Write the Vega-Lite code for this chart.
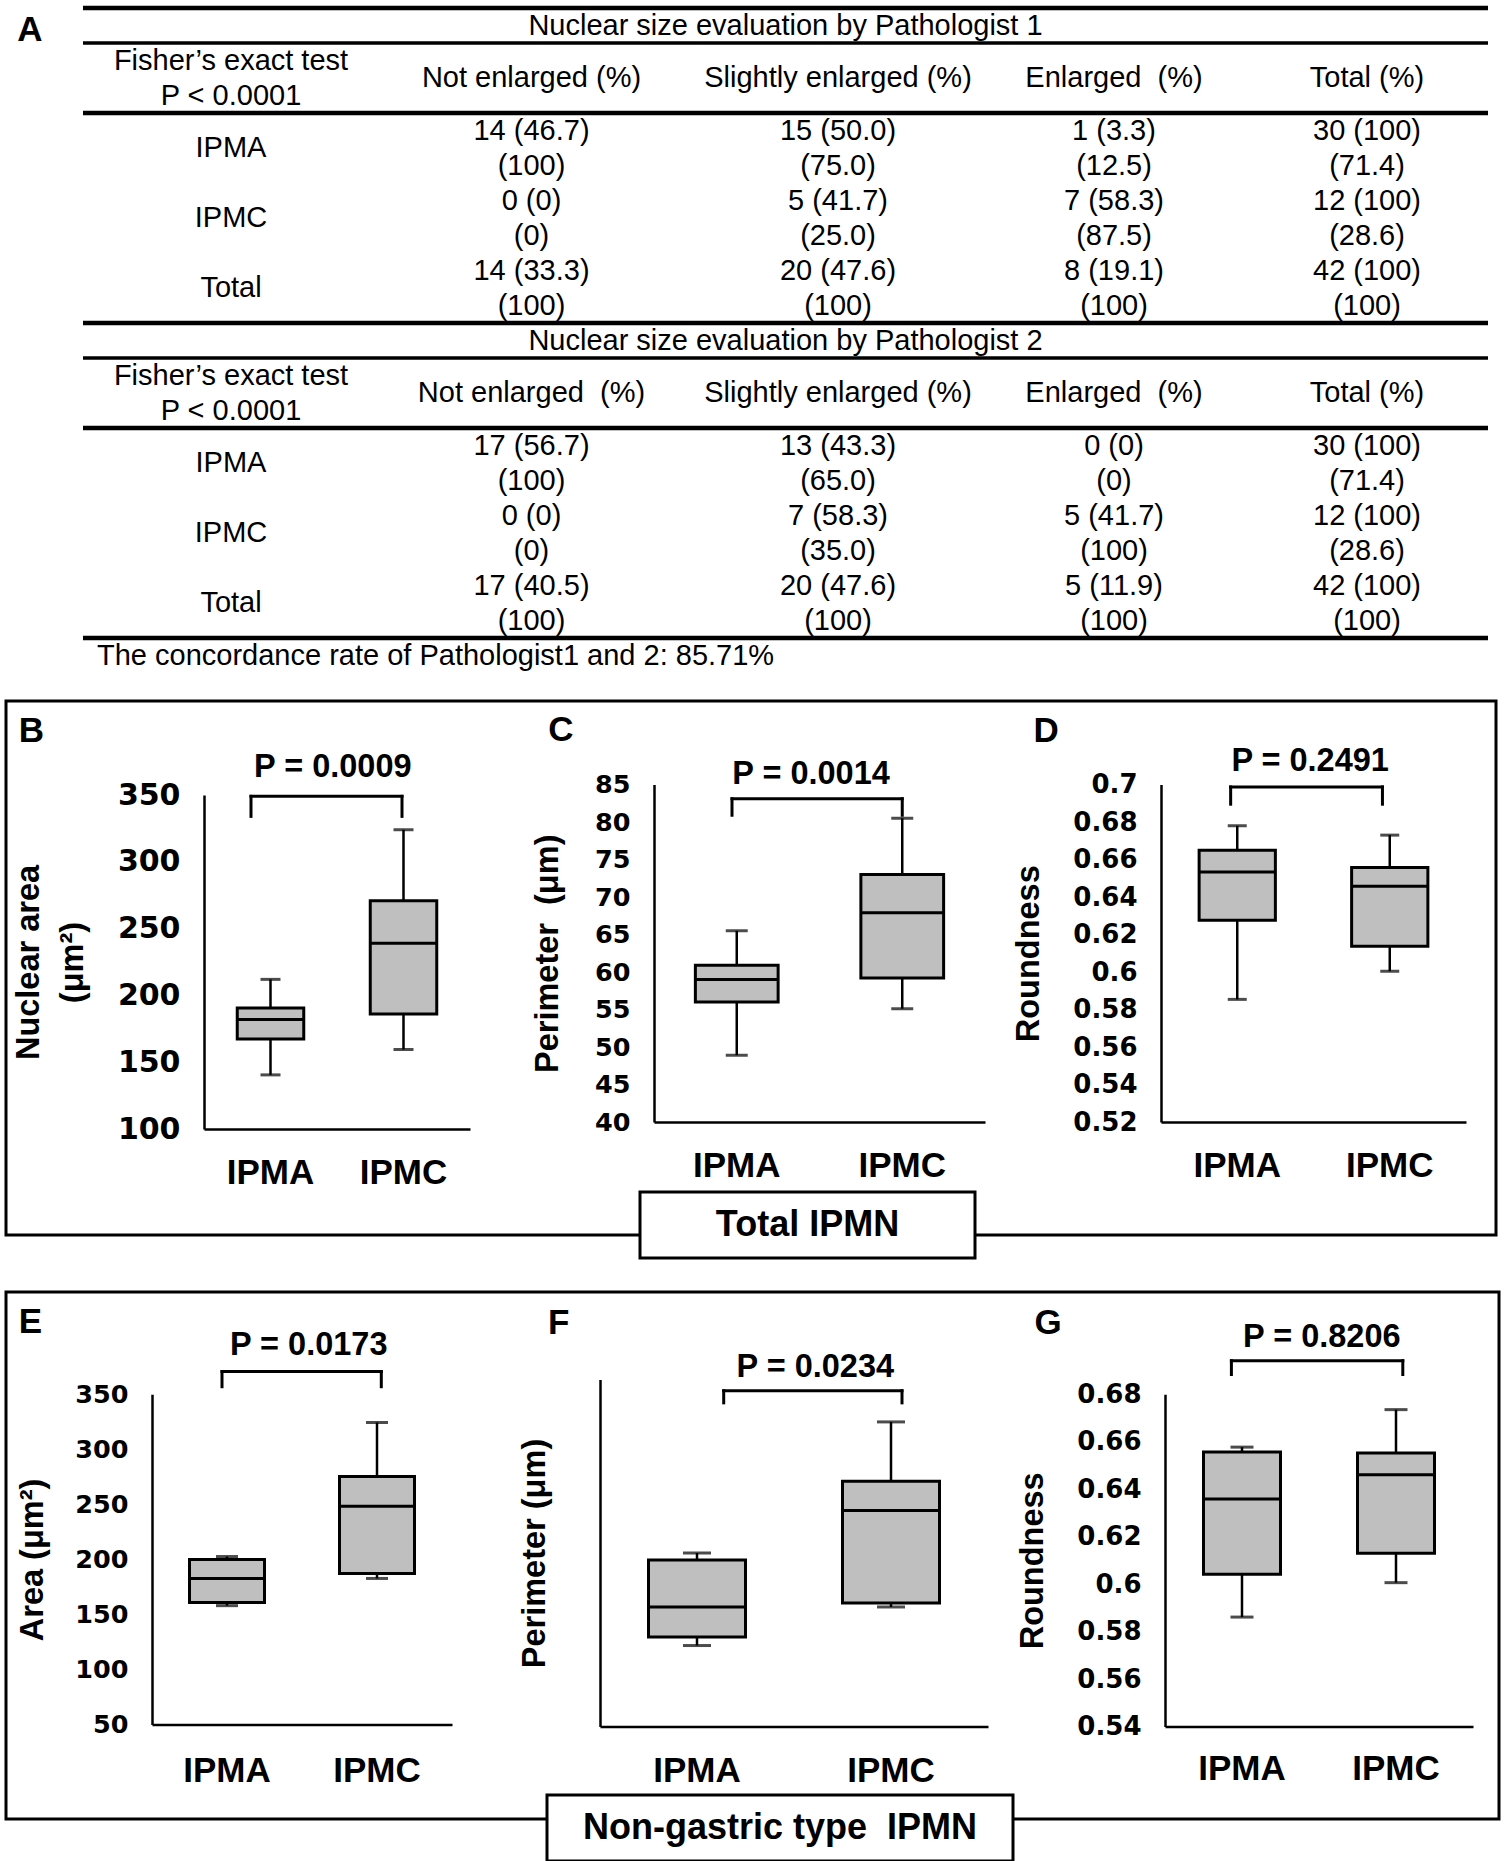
{
  "$schema": "https://vega.github.io/schema/vega-lite/v6.json",
  "background": "white",
  "padding": {"left": 4, "top": 5, "right": 4, "bottom": 3},
  "bounds": "flush",
  "spacing": 57,
  "config": {
    "view": {"stroke": null},
    "axis": {"grid": false, "ticks": false, "tickSize": 0, "domainColor": "black", "domainWidth": 2.5, "labelColor": "black", "titleColor": "black", "labelOverlap": false, "labelFlush": false, "titleFont": "Liberation Sans", "titleFontWeight": "bold", "titleFontSize": 32.5, "titleLineHeight": 44},
    "axisX": {"labelFont": "Liberation Sans", "labelFontWeight": "bold", "labelFontSize": 35, "labelPadding": 43, "labelBaseline": "middle", "labelAngle": 0},
    "axisY": {"labelFont": "DejaVu Sans", "labelFontWeight": "bold", "labelFontSize": 25.5, "labelPadding": 24}
  },
  "datasets": {
    "table": [
      {"line": 0, "col": "title", "text": "Nuclear size evaluation by Pathologist 1"},
      {"line": 1, "col": "label", "text": "Fisher’s exact test"},
      {"line": 2, "col": "label", "text": "P < 0.0001"},
      {"line": 1.5, "col": "Not enlarged", "text": "Not enlarged (%)"},
      {"line": 1.5, "col": "Slightly enlarged", "text": "Slightly enlarged (%)"},
      {"line": 1.5, "col": "Enlarged", "text": "Enlarged\u00a0 (%)"},
      {"line": 1.5, "col": "Total", "text": "Total (%)"},
      {"line": 3.5, "col": "label", "text": "IPMA"},
      {"line": 5.5, "col": "label", "text": "IPMC"},
      {"line": 7.5, "col": "label", "text": "Total"},
      {"line": 3, "col": "Not enlarged", "text": "14 (46.7)"},
      {"line": 4, "col": "Not enlarged", "text": "(100)"},
      {"line": 5, "col": "Not enlarged", "text": "0 (0)"},
      {"line": 6, "col": "Not enlarged", "text": "(0)"},
      {"line": 7, "col": "Not enlarged", "text": "14 (33.3)"},
      {"line": 8, "col": "Not enlarged", "text": "(100)"},
      {"line": 3, "col": "Slightly enlarged", "text": "15 (50.0)"},
      {"line": 4, "col": "Slightly enlarged", "text": "(75.0)"},
      {"line": 5, "col": "Slightly enlarged", "text": "5 (41.7)"},
      {"line": 6, "col": "Slightly enlarged", "text": "(25.0)"},
      {"line": 7, "col": "Slightly enlarged", "text": "20 (47.6)"},
      {"line": 8, "col": "Slightly enlarged", "text": "(100)"},
      {"line": 3, "col": "Enlarged", "text": "1 (3.3)"},
      {"line": 4, "col": "Enlarged", "text": "(12.5)"},
      {"line": 5, "col": "Enlarged", "text": "7 (58.3)"},
      {"line": 6, "col": "Enlarged", "text": "(87.5)"},
      {"line": 7, "col": "Enlarged", "text": "8 (19.1)"},
      {"line": 8, "col": "Enlarged", "text": "(100)"},
      {"line": 3, "col": "Total", "text": "30 (100)"},
      {"line": 4, "col": "Total", "text": "(71.4)"},
      {"line": 5, "col": "Total", "text": "12 (100)"},
      {"line": 6, "col": "Total", "text": "(28.6)"},
      {"line": 7, "col": "Total", "text": "42 (100)"},
      {"line": 8, "col": "Total", "text": "(100)"},
      {"line": 9, "col": "title", "text": "Nuclear size evaluation by Pathologist 2"},
      {"line": 10, "col": "label", "text": "Fisher’s exact test"},
      {"line": 11, "col": "label", "text": "P < 0.0001"},
      {"line": 10.5, "col": "Not enlarged", "text": "Not enlarged\u00a0 (%)"},
      {"line": 10.5, "col": "Slightly enlarged", "text": "Slightly enlarged (%)"},
      {"line": 10.5, "col": "Enlarged", "text": "Enlarged\u00a0 (%)"},
      {"line": 10.5, "col": "Total", "text": "Total (%)"},
      {"line": 12.5, "col": "label", "text": "IPMA"},
      {"line": 14.5, "col": "label", "text": "IPMC"},
      {"line": 16.5, "col": "label", "text": "Total"},
      {"line": 12, "col": "Not enlarged", "text": "17 (56.7)"},
      {"line": 13, "col": "Not enlarged", "text": "(100)"},
      {"line": 14, "col": "Not enlarged", "text": "0 (0)"},
      {"line": 15, "col": "Not enlarged", "text": "(0)"},
      {"line": 16, "col": "Not enlarged", "text": "17 (40.5)"},
      {"line": 17, "col": "Not enlarged", "text": "(100)"},
      {"line": 12, "col": "Slightly enlarged", "text": "13 (43.3)"},
      {"line": 13, "col": "Slightly enlarged", "text": "(65.0)"},
      {"line": 14, "col": "Slightly enlarged", "text": "7 (58.3)"},
      {"line": 15, "col": "Slightly enlarged", "text": "(35.0)"},
      {"line": 16, "col": "Slightly enlarged", "text": "20 (47.6)"},
      {"line": 17, "col": "Slightly enlarged", "text": "(100)"},
      {"line": 12, "col": "Enlarged", "text": "0 (0)"},
      {"line": 13, "col": "Enlarged", "text": "(0)"},
      {"line": 14, "col": "Enlarged", "text": "5 (41.7)"},
      {"line": 15, "col": "Enlarged", "text": "(100)"},
      {"line": 16, "col": "Enlarged", "text": "5 (11.9)"},
      {"line": 17, "col": "Enlarged", "text": "(100)"},
      {"line": 12, "col": "Total", "text": "30 (100)"},
      {"line": 13, "col": "Total", "text": "(71.4)"},
      {"line": 14, "col": "Total", "text": "12 (100)"},
      {"line": 15, "col": "Total", "text": "(28.6)"},
      {"line": 16, "col": "Total", "text": "42 (100)"},
      {"line": 17, "col": "Total", "text": "(100)"},
      {"line": 18, "col": "note", "text": "The concordance rate of Pathologist1 and 2: 85.71%"}
    ],
    "box": [
      {"panel": "B", "group": "IPMA", "min": 140.5, "q1": 167.3, "median": 182, "q3": 190.5, "max": 212},
      {"panel": "B", "group": "IPMC", "min": 159.5, "q1": 186, "median": 239, "q3": 270.8, "max": 324},
      {"panel": "C", "group": "IPMA", "min": 48.9, "q1": 56, "median": 59, "q3": 60.9, "max": 65.5},
      {"panel": "C", "group": "IPMC", "min": 55.1, "q1": 59.2, "median": 67.9, "q3": 73, "max": 80.5},
      {"panel": "D", "group": "IPMA", "min": 0.5854, "q1": 0.6276, "median": 0.6534, "q3": 0.665, "max": 0.678},
      {"panel": "D", "group": "IPMC", "min": 0.6004, "q1": 0.6138, "median": 0.6458, "q3": 0.6557, "max": 0.673},
      {"panel": "E", "group": "IPMA", "min": 158, "q1": 160.8, "median": 182.7, "q3": 199.8, "max": 202.6},
      {"panel": "E", "group": "IPMC", "min": 182.7, "q1": 187.2, "median": 248.2, "q3": 275.3, "max": 324.3},
      {"panel": "F", "group": "IPMA", "min": 50.5, "q1": 51.6, "median": 55.5, "q3": 61.6, "max": 62.5},
      {"panel": "F", "group": "IPMC", "min": 55.5, "q1": 56, "median": 68, "q3": 71.8, "max": 79.5},
      {"panel": "G", "group": "IPMA", "min": 0.5861, "q1": 0.6041, "median": 0.6358, "q3": 0.6557, "max": 0.6577},
      {"panel": "G", "group": "IPMC", "min": 0.6006, "q1": 0.613, "median": 0.6461, "q3": 0.6552, "max": 0.6735}
    ],
    "notes": [
      {"panel": "B", "letter": "B", "p": "P = 0.0009"},
      {"panel": "C", "letter": "C", "p": "P = 0.0014"},
      {"panel": "D", "letter": "D", "p": "P = 0.2491"},
      {"panel": "E", "letter": "E", "p": "P = 0.0173"},
      {"panel": "F", "letter": "F", "p": "P = 0.0234"},
      {"panel": "G", "letter": "G", "p": "P = 0.8206"}
    ]
  },
  "vconcat": [
    {
      "width": 1490, "height": 636,
      "view": {"stroke": null},
      "data": {"name": "table"},
      "layer": [
        {"data": {"values": [{"line": 0.5}, {"line": 9.5}]},
         "mark": {"type": "rule", "color": "black", "strokeWidth": 3.3},
         "encoding": {
           "x": {"datum": "label", "type": "nominal", "bandPosition": 0, "scale": {"type": "band", "domain": ["label", "Not enlarged", "Slightly enlarged", "Enlarged", "Total"], "range": [77, 1482], "paddingInner": 0, "paddingOuter": 0}, "axis": null},
           "x2": {"datum": "Total", "bandPosition": 1},
           "y": {"field": "line", "type": "quantitative", "scale": {"domain": [-0.5, 17.6714], "reverse": true, "nice": false, "zero": false}, "axis": null}}},
        {"data": {"values": [{"line": -0.5}, {"line": 2.5}, {"line": 8.5}, {"line": 11.5}, {"line": 17.5}]},
         "mark": {"type": "rule", "color": "black", "strokeWidth": 4.5},
         "encoding": {
           "x": {"datum": "label", "type": "nominal", "bandPosition": 0, "axis": null},
           "x2": {"datum": "Total", "bandPosition": 1},
           "y": {"field": "line", "type": "quantitative", "axis": null}}},
        {"transform": [{"filter": "datum.col === 'label'"}],
         "mark": {"type": "text", "font": "Liberation Sans", "fontSize": 29, "baseline": "middle", "color": "black", "dx": 7.5},
         "encoding": {"x": {"field": "col", "type": "nominal", "axis": null}, "y": {"field": "line", "type": "quantitative", "axis": null}, "text": {"field": "text"}}},
        {"transform": [{"filter": "datum.col === 'Not enlarged'"}],
         "mark": {"type": "text", "font": "Liberation Sans", "fontSize": 29, "baseline": "middle", "color": "black", "dx": 27},
         "encoding": {"x": {"field": "col", "type": "nominal", "axis": null}, "y": {"field": "line", "type": "quantitative", "axis": null}, "text": {"field": "text"}}},
        {"transform": [{"filter": "datum.col === 'Slightly enlarged'"}],
         "mark": {"type": "text", "font": "Liberation Sans", "fontSize": 29, "baseline": "middle", "color": "black", "dx": 52.5},
         "encoding": {"x": {"field": "col", "type": "nominal", "axis": null}, "y": {"field": "line", "type": "quantitative", "axis": null}, "text": {"field": "text"}}},
        {"transform": [{"filter": "datum.col === 'Enlarged'"}],
         "mark": {"type": "text", "font": "Liberation Sans", "fontSize": 29, "baseline": "middle", "color": "black", "dx": 47.5},
         "encoding": {"x": {"field": "col", "type": "nominal", "axis": null}, "y": {"field": "line", "type": "quantitative", "axis": null}, "text": {"field": "text"}}},
        {"transform": [{"filter": "datum.col === 'Total'"}],
         "mark": {"type": "text", "font": "Liberation Sans", "fontSize": 29, "baseline": "middle", "color": "black", "dx": 19.5},
         "encoding": {"x": {"field": "col", "type": "nominal", "axis": null}, "y": {"field": "line", "type": "quantitative", "axis": null}, "text": {"field": "text"}}},
        {"transform": [{"filter": "datum.col === 'title'"}],
         "mark": {"type": "text", "font": "Liberation Sans", "fontSize": 29, "baseline": "middle", "color": "black"},
         "encoding": {"x": {"datum": "Slightly enlarged", "type": "nominal", "axis": null}, "y": {"field": "line", "type": "quantitative", "axis": null}, "text": {"field": "text"}}},
        {"transform": [{"filter": "datum.col === 'note'"}],
         "mark": {"type": "text", "font": "Liberation Sans", "fontSize": 29, "baseline": "middle", "align": "left", "color": "black", "dx": 14},
         "encoding": {"x": {"datum": "label", "type": "nominal", "bandPosition": 0, "axis": null}, "y": {"field": "line", "type": "quantitative", "axis": null}, "text": {"field": "text"}}},
        {"data": {"values": [{"t": "A"}]},
         "mark": {"type": "text", "font": "Liberation Sans", "fontWeight": "bold", "fontSize": 35, "baseline": "middle", "color": "black", "dx": -53, "dy": 4},
         "encoding": {"x": {"datum": "label", "type": "nominal", "bandPosition": 0, "axis": null}, "y": {"datum": 0, "type": "quantitative", "axis": null}, "text": {"field": "t"}}}
      ]
    },
    {
      "width": 1490, "height": 534,
      "view": {"stroke": "black", "strokeWidth": 3},
      "resolve": {"scale": {"x": "independent", "y": "independent"}},
      "layer": [
        {"layer": [
          {"data": {"name": "box"}, "transform": [{"filter": "datum.panel === 'B'"}], "layer": [
            {"mark": {"type": "rule", "color": "black", "strokeWidth": 2.5},
             "encoding": {
               "x": {"field": "group", "type": "nominal", "scale": {"type": "band", "domain": ["IPMA", "IPMC"], "range": [198, 464], "paddingInner": 0, "paddingOuter": 0}, "axis": {"orient": "bottom", "offset": -106, "title": null, "labelPadding": 43}},
               "y": {"field": "min", "type": "quantitative", "scale": {"domain": [100, 350], "range": [428, 94], "nice": false, "zero": false}, "axis": {"orient": "left", "offset": -198, "values": [100, 150, 200, 250, 300, 350], "labelFontSize": 30, "title": ["Nuclear area", "(μm²)"], "titlePadding": 28}},
               "y2": {"field": "max"}}},
            {"mark": {"type": "bar", "fill": "#bfbfbf", "stroke": "black", "strokeWidth": 3, "width": {"band": 0.5}},
             "encoding": {"x": {"field": "group", "type": "nominal"}, "y": {"field": "q1", "type": "quantitative"}, "y2": {"field": "q3"}}},
            {"mark": {"type": "bar", "fill": "#bfbfbf", "stroke": "black", "strokeWidth": 3, "width": {"band": 0.5}},
             "encoding": {"x": {"field": "group", "type": "nominal"}, "y": {"field": "median", "type": "quantitative"}, "y2": {"field": "median"}}},
            {"mark": {"type": "tick", "color": "black", "thickness": 3, "size": 20},
             "encoding": {"x": {"field": "group", "type": "nominal"}, "y": {"field": "min", "type": "quantitative"}}},
            {"mark": {"type": "tick", "color": "black", "thickness": 3, "size": 20},
             "encoding": {"x": {"field": "group", "type": "nominal"}, "y": {"field": "max", "type": "quantitative"}}}
          ]},
          {"data": {"name": "notes"}, "transform": [{"filter": "datum.panel === 'B'"}], "layer": [
            {"mark": {"type": "rule", "color": "black", "strokeWidth": 3, "strokeCap": "square", "xOffset": -19.5, "x2Offset": -1.5},
             "encoding": {"x": {"datum": "IPMA", "type": "nominal"}, "x2": {"datum": "IPMC"}, "y": {"datum": 349, "type": "quantitative"}}},
            {"mark": {"type": "rule", "color": "black", "strokeWidth": 3, "strokeCap": "square", "xOffset": -19.5},
             "encoding": {"x": {"datum": "IPMA", "type": "nominal"}, "y": {"datum": 349, "type": "quantitative"}, "y2": {"datum": 334}}},
            {"mark": {"type": "rule", "color": "black", "strokeWidth": 3, "strokeCap": "square", "xOffset": -1.5},
             "encoding": {"x": {"datum": "IPMC", "type": "nominal"}, "y": {"datum": 349, "type": "quantitative"}, "y2": {"datum": 334}}},
            {"mark": {"type": "text", "font": "Liberation Sans", "fontWeight": "bold", "fontSize": 32.5, "baseline": "middle", "color": "black", "dx": 62.3},
             "encoding": {"x": {"datum": "IPMA", "type": "nominal"}, "y": {"datum": 370.8, "type": "quantitative"}, "text": {"field": "p"}}},
            {"mark": {"type": "text", "font": "Liberation Sans", "fontWeight": "bold", "fontSize": 35, "baseline": "middle", "color": "black", "dx": -239},
             "encoding": {"x": {"datum": "IPMA", "type": "nominal"}, "y": {"datum": 397.8, "type": "quantitative"}, "text": {"field": "letter"}}}
          ]}
        ]},
        {"layer": [
          {"data": {"name": "box"}, "transform": [{"filter": "datum.panel === 'C'"}], "layer": [
            {"mark": {"type": "rule", "color": "black", "strokeWidth": 2.5},
             "encoding": {
               "x": {"field": "group", "type": "nominal", "scale": {"type": "band", "domain": ["IPMA", "IPMC"], "range": [648, 979], "paddingInner": 0, "paddingOuter": 0}, "axis": {"orient": "bottom", "offset": -113, "title": null, "labelPadding": 43}},
               "y": {"field": "min", "type": "quantitative", "scale": {"domain": [40, 85], "range": [421, 83.5], "nice": false, "zero": false}, "axis": {"orient": "left", "offset": -648, "values": [40, 45, 50, 55, 60, 65, 70, 75, 80, 85], "title": "Perimeter\u00a0 (μm)", "titlePadding": 30}},
               "y2": {"field": "max"}}},
            {"mark": {"type": "bar", "fill": "#bfbfbf", "stroke": "black", "strokeWidth": 3, "width": {"band": 0.5}},
             "encoding": {"x": {"field": "group", "type": "nominal"}, "y": {"field": "q1", "type": "quantitative"}, "y2": {"field": "q3"}}},
            {"mark": {"type": "bar", "fill": "#bfbfbf", "stroke": "black", "strokeWidth": 3, "width": {"band": 0.5}},
             "encoding": {"x": {"field": "group", "type": "nominal"}, "y": {"field": "median", "type": "quantitative"}, "y2": {"field": "median"}}},
            {"mark": {"type": "tick", "color": "black", "thickness": 3, "size": 22},
             "encoding": {"x": {"field": "group", "type": "nominal"}, "y": {"field": "min", "type": "quantitative"}}},
            {"mark": {"type": "tick", "color": "black", "thickness": 3, "size": 22},
             "encoding": {"x": {"field": "group", "type": "nominal"}, "y": {"field": "max", "type": "quantitative"}}}
          ]},
          {"data": {"name": "notes"}, "transform": [{"filter": "datum.panel === 'C'"}], "layer": [
            {"mark": {"type": "rule", "color": "black", "strokeWidth": 3, "strokeCap": "square", "xOffset": -4.75, "x2Offset": 0},
             "encoding": {"x": {"datum": "IPMA", "type": "nominal"}, "x2": {"datum": "IPMC"}, "y": {"datum": 83.1, "type": "quantitative"}}},
            {"mark": {"type": "rule", "color": "black", "strokeWidth": 3, "strokeCap": "square", "xOffset": -4.75},
             "encoding": {"x": {"datum": "IPMA", "type": "nominal"}, "y": {"datum": 83.1, "type": "quantitative"}, "y2": {"datum": 80.9}}},
            {"mark": {"type": "rule", "color": "black", "strokeWidth": 3, "strokeCap": "square"},
             "encoding": {"x": {"datum": "IPMC", "type": "nominal"}, "y": {"datum": 83.1, "type": "quantitative"}, "y2": {"datum": 80.9}}},
            {"mark": {"type": "text", "font": "Liberation Sans", "fontWeight": "bold", "fontSize": 32.5, "baseline": "middle", "color": "black", "dx": 74.3},
             "encoding": {"x": {"datum": "IPMA", "type": "nominal"}, "y": {"datum": 86.43, "type": "quantitative"}, "text": {"field": "p"}}},
            {"mark": {"type": "text", "font": "Liberation Sans", "fontWeight": "bold", "fontSize": 35, "baseline": "middle", "color": "black", "dx": -175.75},
             "encoding": {"x": {"datum": "IPMA", "type": "nominal"}, "y": {"datum": 92.3, "type": "quantitative"}, "text": {"field": "letter"}}}
          ]}
        ]},
        {"layer": [
          {"data": {"name": "box"}, "transform": [{"filter": "datum.panel === 'D'"}], "layer": [
            {"mark": {"type": "rule", "color": "black", "strokeWidth": 2.5},
             "encoding": {
               "x": {"field": "group", "type": "nominal", "scale": {"type": "band", "domain": ["IPMA", "IPMC"], "range": [1155, 1460], "paddingInner": 0, "paddingOuter": 0}, "axis": {"orient": "bottom", "offset": -113, "title": null, "labelPadding": 43}},
               "y": {"field": "min", "type": "quantitative", "scale": {"domain": [0.52, 0.7], "range": [421, 83.5], "nice": false, "zero": false}, "axis": {"orient": "left", "offset": -1155, "values": [0.52, 0.54, 0.56, 0.58, 0.6, 0.62, 0.64, 0.66, 0.68, 0.7], "format": ".2~f", "labelFontSize": 26, "title": "Roundness", "titlePadding": 27}},
               "y2": {"field": "max"}}},
            {"mark": {"type": "bar", "fill": "#bfbfbf", "stroke": "black", "strokeWidth": 3, "width": {"band": 0.5}},
             "encoding": {"x": {"field": "group", "type": "nominal"}, "y": {"field": "q1", "type": "quantitative"}, "y2": {"field": "q3"}}},
            {"mark": {"type": "bar", "fill": "#bfbfbf", "stroke": "black", "strokeWidth": 3, "width": {"band": 0.5}},
             "encoding": {"x": {"field": "group", "type": "nominal"}, "y": {"field": "median", "type": "quantitative"}, "y2": {"field": "median"}}},
            {"mark": {"type": "tick", "color": "black", "thickness": 3, "size": 19},
             "encoding": {"x": {"field": "group", "type": "nominal"}, "y": {"field": "min", "type": "quantitative"}}},
            {"mark": {"type": "tick", "color": "black", "thickness": 3, "size": 19},
             "encoding": {"x": {"field": "group", "type": "nominal"}, "y": {"field": "max", "type": "quantitative"}}}
          ]},
          {"data": {"name": "notes"}, "transform": [{"filter": "datum.panel === 'D'"}], "layer": [
            {"mark": {"type": "rule", "color": "black", "strokeWidth": 3, "strokeCap": "square", "xOffset": -6.6, "x2Offset": -7.3},
             "encoding": {"x": {"datum": "IPMA", "type": "nominal"}, "x2": {"datum": "IPMC"}, "y": {"datum": 0.6987, "type": "quantitative"}}},
            {"mark": {"type": "rule", "color": "black", "strokeWidth": 3, "strokeCap": "square", "xOffset": -6.6},
             "encoding": {"x": {"datum": "IPMA", "type": "nominal"}, "y": {"datum": 0.6987, "type": "quantitative"}, "y2": {"datum": 0.6895}}},
            {"mark": {"type": "rule", "color": "black", "strokeWidth": 3, "strokeCap": "square", "xOffset": -7.3},
             "encoding": {"x": {"datum": "IPMC", "type": "nominal"}, "y": {"datum": 0.6987, "type": "quantitative"}, "y2": {"datum": 0.6895}}},
            {"mark": {"type": "text", "font": "Liberation Sans", "fontWeight": "bold", "fontSize": 32.5, "baseline": "middle", "color": "black", "dx": 72.9},
             "encoding": {"x": {"datum": "IPMA", "type": "nominal"}, "y": {"datum": 0.7124, "type": "quantitative"}, "text": {"field": "p"}}},
            {"mark": {"type": "text", "font": "Liberation Sans", "fontWeight": "bold", "fontSize": 35, "baseline": "middle", "color": "black", "dx": -191},
             "encoding": {"x": {"datum": "IPMA", "type": "nominal"}, "y": {"datum": 0.7287, "type": "quantitative"}, "text": {"field": "letter"}}}
          ]}
        ]},
        {"data": {"values": [{"label": "Total IPMN"}]}, "layer": [
          {"mark": {"type": "rect", "fill": "white", "stroke": "black", "strokeWidth": 3},
           "encoding": {
             "x": {"field": "label", "type": "nominal", "scale": {"type": "band", "range": [634, 969], "paddingInner": 0, "paddingOuter": 0}, "axis": null},
             "y": {"field": "label", "type": "nominal", "scale": {"type": "band", "range": [491, 557], "paddingInner": 0, "paddingOuter": 0}, "axis": null}}},
          {"mark": {"type": "text", "font": "Liberation Sans", "fontWeight": "bold", "fontSize": 36, "baseline": "middle", "color": "black"},
           "encoding": {"x": {"field": "label", "type": "nominal", "axis": null}, "y": {"field": "label", "type": "nominal", "axis": null}, "text": {"field": "label"}}}
        ]}
      ]
    },
    {
      "width": 1493, "height": 527,
      "view": {"stroke": "black", "strokeWidth": 3},
      "resolve": {"scale": {"x": "independent", "y": "independent"}},
      "layer": [
        {"layer": [
          {"data": {"name": "box"}, "transform": [{"filter": "datum.panel === 'E'"}], "layer": [
            {"mark": {"type": "rule", "color": "black", "strokeWidth": 2.5},
             "encoding": {
               "x": {"field": "group", "type": "nominal", "scale": {"type": "band", "domain": ["IPMA", "IPMC"], "range": [146, 446], "paddingInner": 0, "paddingOuter": 0}, "axis": {"orient": "bottom", "offset": -94.4, "title": null, "labelPadding": 46}},
               "y": {"field": "min", "type": "quantitative", "scale": {"domain": [50, 350], "range": [432.6, 102.2], "nice": false, "zero": false}, "axis": {"orient": "left", "offset": -146, "values": [50, 100, 150, 200, 250, 300, 350], "title": "Area (μm²)", "titlePadding": 25}},
               "y2": {"field": "max"}}},
            {"mark": {"type": "bar", "fill": "#bfbfbf", "stroke": "black", "strokeWidth": 3, "width": {"band": 0.5}},
             "encoding": {"x": {"field": "group", "type": "nominal"}, "y": {"field": "q1", "type": "quantitative"}, "y2": {"field": "q3"}}},
            {"mark": {"type": "bar", "fill": "#bfbfbf", "stroke": "black", "strokeWidth": 3, "width": {"band": 0.5}},
             "encoding": {"x": {"field": "group", "type": "nominal"}, "y": {"field": "median", "type": "quantitative"}, "y2": {"field": "median"}}},
            {"mark": {"type": "tick", "color": "black", "thickness": 3, "size": 22},
             "encoding": {"x": {"field": "group", "type": "nominal"}, "y": {"field": "min", "type": "quantitative"}}},
            {"mark": {"type": "tick", "color": "black", "thickness": 3, "size": 22},
             "encoding": {"x": {"field": "group", "type": "nominal"}, "y": {"field": "max", "type": "quantitative"}}}
          ]},
          {"data": {"name": "notes"}, "transform": [{"filter": "datum.panel === 'E'"}], "layer": [
            {"mark": {"type": "rule", "color": "black", "strokeWidth": 3, "strokeCap": "square", "xOffset": -5, "x2Offset": 4.3},
             "encoding": {"x": {"datum": "IPMA", "type": "nominal"}, "x2": {"datum": "IPMC"}, "y": {"datum": 370.5, "type": "quantitative"}}},
            {"mark": {"type": "rule", "color": "black", "strokeWidth": 3, "strokeCap": "square", "xOffset": -5},
             "encoding": {"x": {"datum": "IPMA", "type": "nominal"}, "y": {"datum": 370.5, "type": "quantitative"}, "y2": {"datum": 356.8}}},
            {"mark": {"type": "rule", "color": "black", "strokeWidth": 3, "strokeCap": "square", "xOffset": 4.3},
             "encoding": {"x": {"datum": "IPMC", "type": "nominal"}, "y": {"datum": 370.5, "type": "quantitative"}, "y2": {"datum": 356.8}}},
            {"mark": {"type": "text", "font": "Liberation Sans", "fontWeight": "bold", "fontSize": 32.5, "baseline": "middle", "color": "black", "dx": 81.7},
             "encoding": {"x": {"datum": "IPMA", "type": "nominal"}, "y": {"datum": 395.1, "type": "quantitative"}, "text": {"field": "p"}}},
            {"mark": {"type": "text", "font": "Liberation Sans", "fontWeight": "bold", "fontSize": 35, "baseline": "middle", "color": "black", "dx": -196.7},
             "encoding": {"x": {"datum": "IPMA", "type": "nominal"}, "y": {"datum": 415.6, "type": "quantitative"}, "text": {"field": "letter"}}}
          ]}
        ]},
        {"layer": [
          {"data": {"name": "box"}, "transform": [{"filter": "datum.panel === 'F'"}], "layer": [
            {"mark": {"type": "rule", "color": "black", "strokeWidth": 2.5},
             "encoding": {
               "x": {"field": "group", "type": "nominal", "scale": {"type": "band", "domain": ["IPMA", "IPMC"], "range": [594, 982], "paddingInner": 0, "paddingOuter": 0}, "axis": {"orient": "bottom", "offset": -92.5, "title": null, "labelPadding": 44}},
               "y": {"field": "min", "type": "quantitative", "scale": {"domain": [40, 85], "range": [434.5, 87.5], "nice": false, "zero": false}, "axis": {"orient": "left", "offset": -594, "labels": false, "title": "Perimeter (μm)", "titlePadding": 49}},
               "y2": {"field": "max"}}},
            {"mark": {"type": "bar", "fill": "#bfbfbf", "stroke": "black", "strokeWidth": 3, "width": {"band": 0.5}},
             "encoding": {"x": {"field": "group", "type": "nominal"}, "y": {"field": "q1", "type": "quantitative"}, "y2": {"field": "q3"}}},
            {"mark": {"type": "bar", "fill": "#bfbfbf", "stroke": "black", "strokeWidth": 3, "width": {"band": 0.5}},
             "encoding": {"x": {"field": "group", "type": "nominal"}, "y": {"field": "median", "type": "quantitative"}, "y2": {"field": "median"}}},
            {"mark": {"type": "tick", "color": "black", "thickness": 3, "size": 28},
             "encoding": {"x": {"field": "group", "type": "nominal"}, "y": {"field": "min", "type": "quantitative"}}},
            {"mark": {"type": "tick", "color": "black", "thickness": 3, "size": 28},
             "encoding": {"x": {"field": "group", "type": "nominal"}, "y": {"field": "max", "type": "quantitative"}}}
          ]},
          {"data": {"name": "notes"}, "transform": [{"filter": "datum.panel === 'F'"}], "layer": [
            {"mark": {"type": "rule", "color": "black", "strokeWidth": 3, "strokeCap": "square", "xOffset": 26.7, "x2Offset": 11},
             "encoding": {"x": {"datum": "IPMA", "type": "nominal"}, "x2": {"datum": "IPMC"}, "y": {"datum": 83.54, "type": "quantitative"}}},
            {"mark": {"type": "rule", "color": "black", "strokeWidth": 3, "strokeCap": "square", "xOffset": 26.7},
             "encoding": {"x": {"datum": "IPMA", "type": "nominal"}, "y": {"datum": 83.54, "type": "quantitative"}, "y2": {"datum": 81.97}}},
            {"mark": {"type": "rule", "color": "black", "strokeWidth": 3, "strokeCap": "square", "xOffset": 11},
             "encoding": {"x": {"datum": "IPMC", "type": "nominal"}, "y": {"datum": 83.54, "type": "quantitative"}, "y2": {"datum": 81.97}}},
            {"mark": {"type": "text", "font": "Liberation Sans", "fontWeight": "bold", "fontSize": 32.5, "baseline": "middle", "color": "black", "dx": 118.3},
             "encoding": {"x": {"datum": "IPMA", "type": "nominal"}, "y": {"datum": 86.6, "type": "quantitative"}, "text": {"field": "p"}}},
            {"mark": {"type": "text", "font": "Liberation Sans", "fontWeight": "bold", "fontSize": 35, "baseline": "middle", "color": "black", "dx": -138.3},
             "encoding": {"x": {"datum": "IPMA", "type": "nominal"}, "y": {"datum": 92.3, "type": "quantitative"}, "text": {"field": "letter"}}}
          ]}
        ]},
        {"layer": [
          {"data": {"name": "box"}, "transform": [{"filter": "datum.panel === 'G'"}], "layer": [
            {"mark": {"type": "rule", "color": "black", "strokeWidth": 2.5},
             "encoding": {
               "x": {"field": "group", "type": "nominal", "scale": {"type": "band", "domain": ["IPMA", "IPMC"], "range": [1159, 1467], "paddingInner": 0, "paddingOuter": 0}, "axis": {"orient": "bottom", "offset": -92.5, "title": null, "labelPadding": 42}},
               "y": {"field": "min", "type": "quantitative", "scale": {"domain": [0.54, 0.68], "range": [434.5, 102.2], "nice": false, "zero": false}, "axis": {"orient": "left", "offset": -1159, "values": [0.54, 0.56, 0.58, 0.6, 0.62, 0.64, 0.66, 0.68], "format": ".2~f", "labelFontSize": 26, "title": "Roundness", "titlePadding": 27}},
               "y2": {"field": "max"}}},
            {"mark": {"type": "bar", "fill": "#bfbfbf", "stroke": "black", "strokeWidth": 3, "width": {"band": 0.5}},
             "encoding": {"x": {"field": "group", "type": "nominal"}, "y": {"field": "q1", "type": "quantitative"}, "y2": {"field": "q3"}}},
            {"mark": {"type": "bar", "fill": "#bfbfbf", "stroke": "black", "strokeWidth": 3, "width": {"band": 0.5}},
             "encoding": {"x": {"field": "group", "type": "nominal"}, "y": {"field": "median", "type": "quantitative"}, "y2": {"field": "median"}}},
            {"mark": {"type": "tick", "color": "black", "thickness": 3, "size": 23},
             "encoding": {"x": {"field": "group", "type": "nominal"}, "y": {"field": "min", "type": "quantitative"}}},
            {"mark": {"type": "tick", "color": "black", "thickness": 3, "size": 23},
             "encoding": {"x": {"field": "group", "type": "nominal"}, "y": {"field": "max", "type": "quantitative"}}}
          ]},
          {"data": {"name": "notes"}, "transform": [{"filter": "datum.panel === 'G'"}], "layer": [
            {"mark": {"type": "rule", "color": "black", "strokeWidth": 3, "strokeCap": "square", "xOffset": -10.6, "x2Offset": 6.8},
             "encoding": {"x": {"datum": "IPMA", "type": "nominal"}, "x2": {"datum": "IPMC"}, "y": {"datum": 0.6941, "type": "quantitative"}}},
            {"mark": {"type": "rule", "color": "black", "strokeWidth": 3, "strokeCap": "square", "xOffset": -10.6},
             "encoding": {"x": {"datum": "IPMA", "type": "nominal"}, "y": {"datum": 0.6941, "type": "quantitative"}, "y2": {"datum": 0.6883}}},
            {"mark": {"type": "rule", "color": "black", "strokeWidth": 3, "strokeCap": "square", "xOffset": 6.8},
             "encoding": {"x": {"datum": "IPMC", "type": "nominal"}, "y": {"datum": 0.6941, "type": "quantitative"}, "y2": {"datum": 0.6883}}},
            {"mark": {"type": "text", "font": "Liberation Sans", "fontWeight": "bold", "fontSize": 32.5, "baseline": "middle", "color": "black", "dx": 79.8},
             "encoding": {"x": {"datum": "IPMA", "type": "nominal"}, "y": {"datum": 0.7041, "type": "quantitative"}, "text": {"field": "p"}}},
            {"mark": {"type": "text", "font": "Liberation Sans", "fontWeight": "bold", "fontSize": 35, "baseline": "middle", "color": "black", "dx": -194},
             "encoding": {"x": {"datum": "IPMA", "type": "nominal"}, "y": {"datum": 0.71, "type": "quantitative"}, "text": {"field": "letter"}}}
          ]}
        ]},
        {"data": {"values": [{"label": "Non-gastric type\u00a0 IPMN"}]}, "layer": [
          {"mark": {"type": "rect", "fill": "white", "stroke": "black", "strokeWidth": 3},
           "encoding": {
             "x": {"field": "label", "type": "nominal", "scale": {"type": "band", "range": [541, 1007], "paddingInner": 0, "paddingOuter": 0}, "axis": null},
             "y": {"field": "label", "type": "nominal", "scale": {"type": "band", "range": [503, 569], "paddingInner": 0, "paddingOuter": 0}, "axis": null}}},
          {"mark": {"type": "text", "font": "Liberation Sans", "fontWeight": "bold", "fontSize": 36, "baseline": "middle", "color": "black"},
           "encoding": {"x": {"field": "label", "type": "nominal", "axis": null}, "y": {"field": "label", "type": "nominal", "axis": null}, "text": {"field": "label"}}}
        ]}
      ]
    }
  ]
}
